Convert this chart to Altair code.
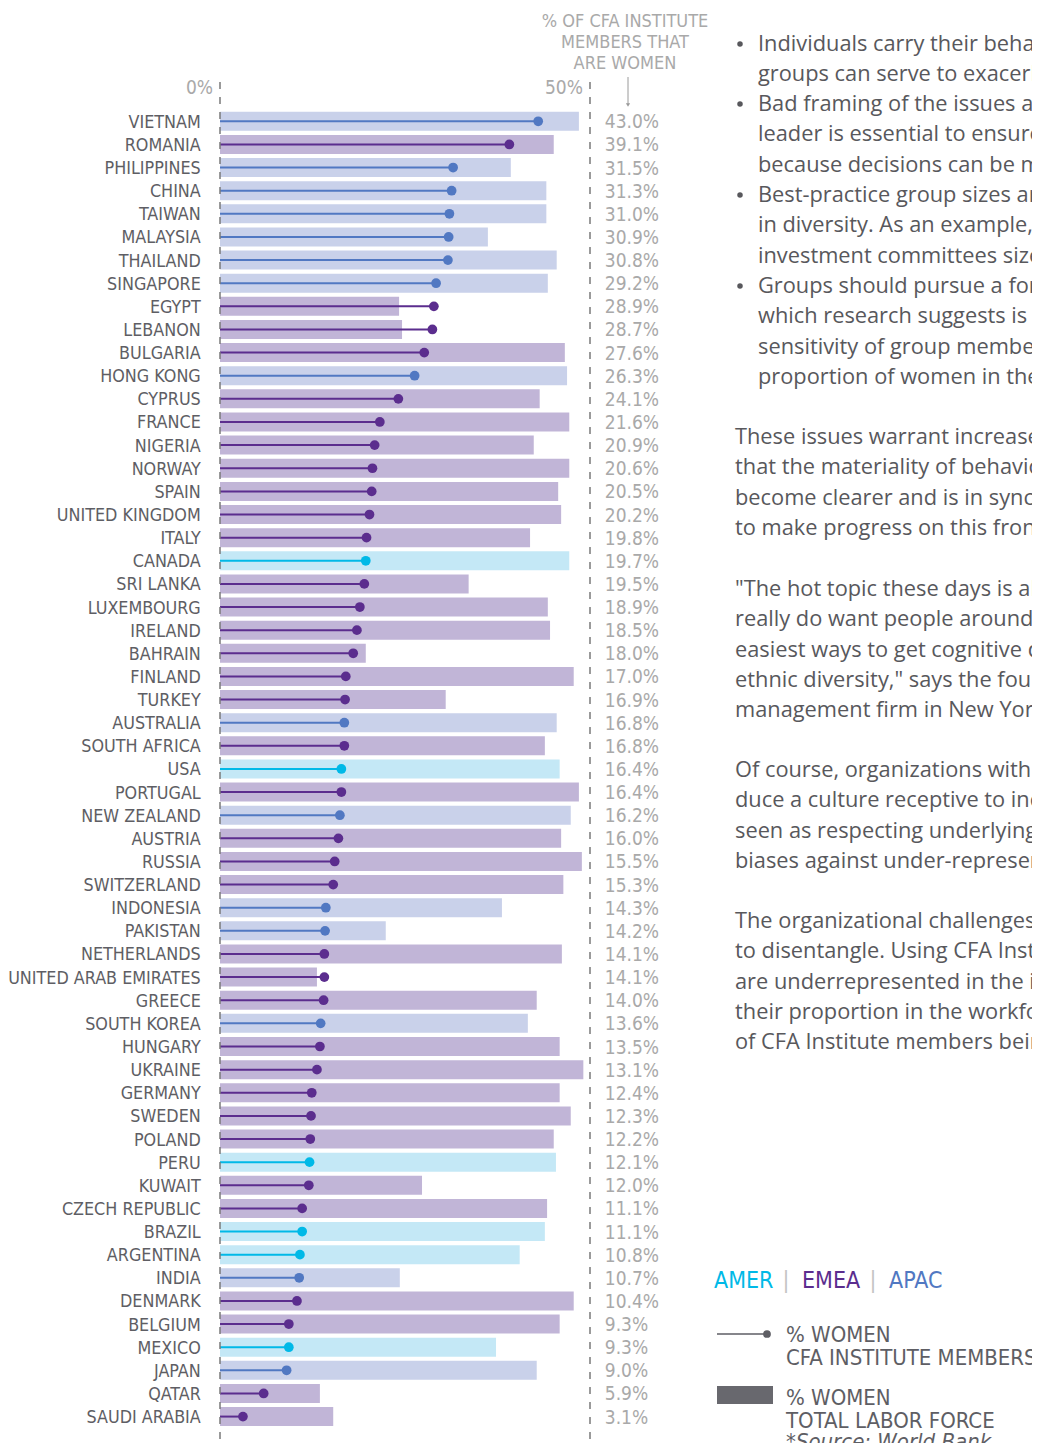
import altair as alt
import pandas as pd

# ---------------- data ----------------
countries = [
    "VIETNAM", "ROMANIA", "PHILIPPINES", "CHINA", "TAIWAN", "MALAYSIA", "THAILAND",
    "SINGAPORE", "EGYPT", "LEBANON", "BULGARIA", "HONG KONG", "CYPRUS", "FRANCE",
    "NIGERIA", "NORWAY", "SPAIN", "UNITED KINGDOM", "ITALY", "CANADA", "SRI LANKA",
    "LUXEMBOURG", "IRELAND", "BAHRAIN", "FINLAND", "TURKEY", "AUSTRALIA",
    "SOUTH AFRICA", "USA", "PORTUGAL", "NEW ZEALAND", "AUSTRIA", "RUSSIA",
    "SWITZERLAND", "INDONESIA", "PAKISTAN", "NETHERLANDS", "UNITED ARAB EMIRATES",
    "GREECE", "SOUTH KOREA", "HUNGARY", "UKRAINE", "GERMANY", "SWEDEN", "POLAND",
    "PERU", "KUWAIT", "CZECH REPUBLIC", "BRAZIL", "ARGENTINA", "INDIA", "DENMARK",
    "BELGIUM", "MEXICO", "JAPAN", "QATAR", "SAUDI ARABIA",
]
regions = [
    "APAC", "EMEA", "APAC", "APAC", "APAC", "APAC", "APAC",
    "APAC", "EMEA", "EMEA", "EMEA", "APAC", "EMEA", "EMEA",
    "EMEA", "EMEA", "EMEA", "EMEA", "EMEA", "AMER", "EMEA",
    "EMEA", "EMEA", "EMEA", "EMEA", "EMEA", "APAC",
    "EMEA", "AMER", "EMEA", "APAC", "EMEA", "EMEA",
    "EMEA", "APAC", "APAC", "EMEA", "EMEA",
    "EMEA", "APAC", "EMEA", "EMEA", "EMEA", "EMEA", "EMEA",
    "AMER", "EMEA", "EMEA", "AMER", "AMER", "APAC", "EMEA",
    "EMEA", "AMER", "APAC", "EMEA", "EMEA",
]
# % of CFA Institute members that are women
cfa_pct = [
    43.0, 39.1, 31.5, 31.3, 31.0, 30.9, 30.8,
    29.2, 28.9, 28.7, 27.6, 26.3, 24.1, 21.6,
    20.9, 20.6, 20.5, 20.2, 19.8, 19.7, 19.5,
    18.9, 18.5, 18.0, 17.0, 16.9, 16.8,
    16.8, 16.4, 16.4, 16.2, 16.0, 15.5,
    15.3, 14.3, 14.2, 14.1, 14.1,
    14.0, 13.6, 13.5, 13.1, 12.4, 12.3, 12.2,
    12.1, 12.0, 11.1, 11.1, 10.8, 10.7, 10.4,
    9.3, 9.3, 9.0, 5.9, 3.1,
]
# % women in total labor force (World Bank)
labor_pct = [
    48.5, 45.1, 39.3, 44.1, 44.1, 36.2, 45.5,
    44.3, 24.2, 24.6, 46.6, 46.9, 43.2, 47.2,
    42.4, 47.2, 45.7, 46.1, 41.9, 47.2, 33.6,
    44.3, 44.6, 19.7, 47.8, 30.5, 45.5,
    43.9, 45.9, 48.5, 47.4, 46.1, 48.9,
    46.4, 38.1, 22.4, 46.2, 13.1,
    42.8, 41.6, 45.9, 49.1, 45.9, 47.4, 45.1,
    45.4, 27.3, 44.2, 43.9, 40.5, 24.3, 47.8,
    45.9, 37.3, 42.8, 13.5, 15.3,
]
axis_ticks = [0, 50]
region_names = ["AMER", "EMEA", "APAC"]

header_lines = ["% OF CFA INSTITUTE", "MEMBERS THAT", "ARE WOMEN"]
bullets = [
    ["Individuals carry their behavioral", "groups can serve to exacerbate"],
    ["Bad framing of the issues are", "leader is essential to ensure", "because decisions can be made"],
    ["Best-practice group sizes are", "in diversity. As an example, some", "investment committees sizes"],
    ["Groups should pursue a form", "which research suggests is", "sensitivity of group members",
     "proportion of women in the group"],
]
paragraphs = [
    ["These issues warrant increased", "that the materiality of behavioral", "become clearer and is in synch",
     "to make progress on this front."],
    ["\"The hot topic these days is all", "really do want people around you", "easiest ways to get cognitive diversity",
     "ethnic diversity,\" says the founder", "management firm in New York."],
    ["Of course, organizations with some", "duce a culture receptive to increased", "seen as respecting underlying",
     "biases against under-represented"],
    ["The organizational challenges", "to disentangle. Using CFA Institute", "are underrepresented in the investment",
     "their proportion in the workforce", "of CFA Institute members being"],
]
legend_line_text = ["% WOMEN", "CFA INSTITUTE MEMBERS"]
legend_bar_text = ["% WOMEN", "TOTAL LABOR FORCE"]
source_text = "*Source: World Bank"

# ---------------- styling / layout ----------------
W, H = 1024, 1435
X_ZERO = 212.0        # pixel of 0 %
PX_PER_PCT = 7.4
ROW0_Y = 113.3
ROW_STEP = 23.13
LABEL_AT = -2.6       # % position where country labels end
VALUE_AT = 52.0       # % position where value labels start

COND = "Liberation Sans Narrow, Arial Narrow, DejaVu Sans Condensed, sans-serif"
BODY = "Open Sans, Roboto, sans-serif"
dark = ["#00B9E7", "#5B2D8E", "#5178C2"]
light = ["#C4E8F6", "#C1B5D7", "#C9D1EA"]
LABEL_C = "#5e5e64"
VALUE_C = "#a9a9a9"
BODY_C = "#58585c"

x_scale = alt.Scale(domain=[-X_ZERO / PX_PER_PCT, (W - X_ZERO) / PX_PER_PCT],
                    nice=False, zero=False, padding=0)
y_scale = alt.Scale(domain=[-ROW0_Y / ROW_STEP, (H - ROW0_Y) / ROW_STEP],
                    nice=False, zero=False, reverse=True, padding=0)
dark_scale = alt.Scale(domain=region_names, range=dark)
light_scale = alt.Scale(domain=region_names, range=light)


def X(f):
    return alt.X(f, scale=x_scale, axis=None)


def Y(f):
    return alt.Y(f, scale=y_scale, axis=None)


df = pd.DataFrame({
    "country": countries,
    "region": regions,
    "cfa": cfa_pct,
    "labor": labor_pct,
})
df["row"] = range(len(df))

base = alt.Chart(df).transform_calculate(
    zero="0",
    lx=str(LABEL_AT),
    vx=str(VALUE_AT),
    lbl="format(datum.cfa, '.1f') + '%'",
)

bars = base.mark_bar(orient="horizontal", size=19).encode(
    x=X("labor:Q"),
    x2="zero:Q",
    y=Y("row:Q"),
    fill=alt.Fill("region:N", scale=light_scale, legend=None),
)

stems = base.mark_rule(strokeWidth=2).encode(
    x=X("cfa:Q"),
    x2="zero:Q",
    y=Y("row:Q"),
    color=alt.Color("region:N", scale=dark_scale, legend=None),
)

dots = base.mark_circle(size=95, opacity=1).encode(
    x=X("cfa:Q"),
    y=Y("row:Q"),
    color=alt.Color("region:N", scale=dark_scale, legend=None),
)

country_labels = base.mark_text(
    align="right", baseline="middle", font=COND, fontSize=17.8, color=LABEL_C, dy=1.5
).encode(x=X("lx:Q"), y=Y("row:Q"), text="country:N")

value_labels = base.mark_text(
    align="left", baseline="middle", font=COND, fontSize=19, color=VALUE_C, dy=1
).encode(x=X("vx:Q"), y=Y("row:Q"), text="lbl:N")

tick_df = pd.DataFrame({"p": axis_ticks})
grid = alt.Chart(tick_df).mark_rule(strokeDash=[7, 8], color="#7a7a7a", strokeWidth=1.5).encode(
    x=X("p:Q"), y=alt.value(74), y2=alt.value(H)
)
tick_labels = alt.Chart(tick_df).transform_calculate(
    t="datum.p + '%'"
).mark_text(align="right", baseline="middle", font=COND, fontSize=19, color=VALUE_C, dx=-7).encode(
    x=X("p:Q"), y=alt.value(80), text="t:N"
)

layers = [bars, stems, dots, country_labels, value_labels, grid, tick_labels]

one = pd.DataFrame({"k": [0]})

# header + arrow
layers.append(
    alt.Chart(one).mark_text(
        text=header_lines, align="center", baseline="alphabetic", font=COND, fontSize=18,
        color=VALUE_C, lineHeight=21
    ).encode(x=alt.value(617), y=alt.value(18.5))
)
layers.append(
    alt.Chart(one).mark_rule(color="#9a9a9a", strokeWidth=1).encode(
        x=alt.value(620), y=alt.value(69), y2=alt.value(97)
    )
)
layers.append(
    alt.Chart(one).mark_point(shape="triangle-down", filled=True, size=18, color="#9a9a9a", opacity=1).encode(
        x=alt.value(620), y=alt.value(97)
    )
)

# right-hand body text
LH = 30.3
FS = 21.8
bullet_first = [44, 104, 195, 286]
for ys, lines in zip(bullet_first, bullets):
    layers.append(
        alt.Chart(one).mark_circle(size=30, color=BODY_C, opacity=1).encode(
            x=alt.value(732), y=alt.value(ys - 8)
        )
    )
    layers.append(
        alt.Chart(one).mark_text(
            text=lines, align="left", baseline="alphabetic", font=BODY, fontSize=FS,
            color=BODY_C, lineHeight=LH
        ).encode(x=alt.value(750), y=alt.value(ys - 1))
    )
para_first = [437, 589, 770, 921]
for ys, lines in zip(para_first, paragraphs):
    layers.append(
        alt.Chart(one).mark_text(
            text=lines, align="left", baseline="alphabetic", font=BODY, fontSize=FS,
            color=BODY_C, lineHeight=LH
        ).encode(x=alt.value(727), y=alt.value(ys - 1))
    )

# region legend
for name, col, xx in zip(region_names, dark, [706, 794, 881]):
    layers.append(
        alt.Chart(one).mark_text(
            text=name, align="left", baseline="alphabetic", font=COND, fontSize=23, color=col
        ).encode(x=alt.value(xx), y=alt.value(1280))
    )
for xx in [778, 865]:
    layers.append(
        alt.Chart(one).mark_text(
            text="|", align="center", baseline="alphabetic", font=COND, fontSize=23, color="#c4c4c4"
        ).encode(x=alt.value(xx), y=alt.value(1280))
    )

# symbol legend
layers.append(
    alt.Chart(one).mark_rule(color="#5e5e64", strokeWidth=1.3).encode(
        x=alt.value(709), x2=alt.value(757), y=alt.value(1326)
    )
)
layers.append(
    alt.Chart(one).mark_circle(size=60, color="#5e5e64", opacity=1).encode(
        x=alt.value(759), y=alt.value(1326)
    )
)
layers.append(
    alt.Chart(one).mark_text(
        text=legend_line_text, align="left", baseline="alphabetic", font=COND, fontSize=22,
        color=LABEL_C, lineHeight=23
    ).encode(x=alt.value(778), y=alt.value(1334))
)
layers.append(
    alt.Chart(one).mark_rect(color="#68686e").encode(
        x=alt.value(709), x2=alt.value(765), y=alt.value(1378), y2=alt.value(1396)
    )
)
layers.append(
    alt.Chart(one).mark_text(
        text=legend_bar_text, align="left", baseline="alphabetic", font=COND, fontSize=22,
        color=LABEL_C, lineHeight=23
    ).encode(x=alt.value(778), y=alt.value(1397))
)
layers.append(
    alt.Chart(one).mark_text(
        text=source_text, align="left", baseline="alphabetic", font=COND, fontSize=22,
        fontStyle="italic", color=LABEL_C
    ).encode(x=alt.value(778), y=alt.value(1441))
)

chart = alt.layer(*layers).properties(
    width=W, height=H, padding=0, autosize=alt.AutoSizeParams(type="none"),
    background="white",
).configure_view(stroke=None)

chart.save("out.html", embed_options={"renderer": "svg", "actions": False})
